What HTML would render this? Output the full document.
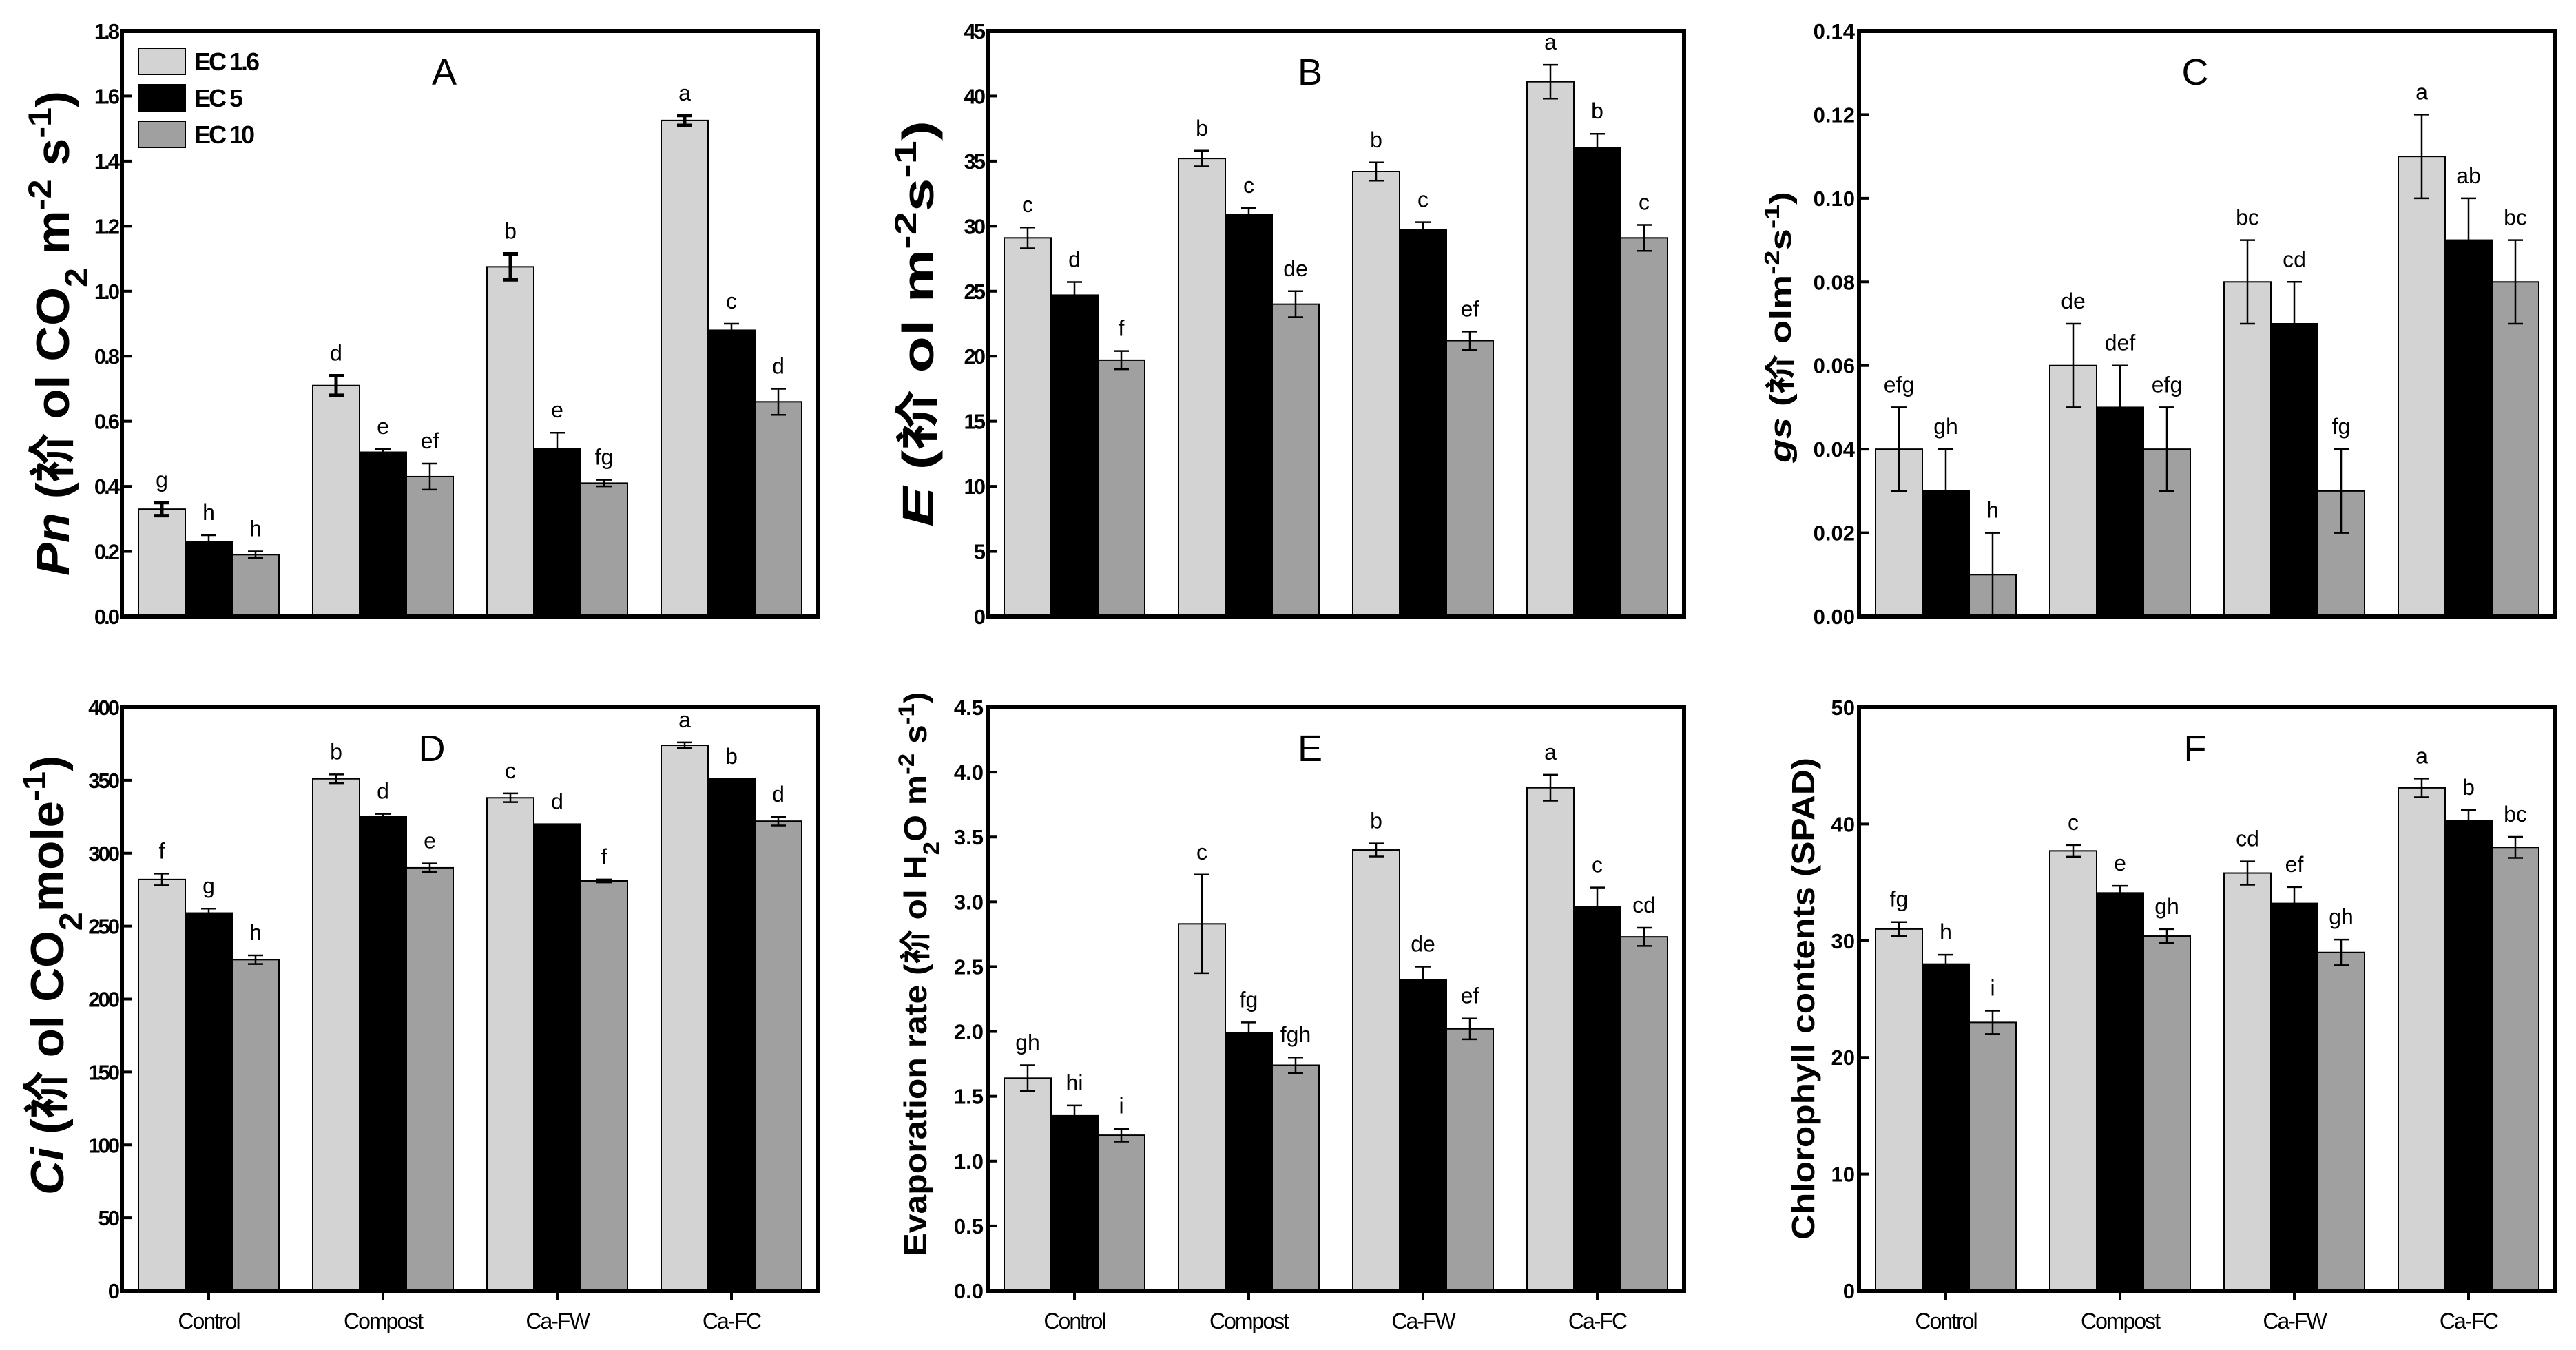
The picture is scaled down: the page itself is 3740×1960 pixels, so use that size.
<!DOCTYPE html>
<html><head><meta charset="utf-8"><style>
html,body{margin:0;padding:0;background:#fff;}
svg{display:block;font-family:"Liberation Sans","Noto Sans CJK SC",sans-serif;}
</style></head><body>
<svg id="fig" width="3740" height="1960" viewBox="0 0 3740 1960" xmlns="http://www.w3.org/2000/svg"></svg>
<script>
const categories = ["Control","Compost","Ca-FW","Ca-FC"];
const seriesNames = ["EC 1.6","EC 5","EC 10"];
const pnValues = [[0.33,0.23,0.19],[0.71,0.505,0.43],[1.075,0.515,0.41],[1.525,0.88,0.66]];
const pnErrors = [[0.02,0.02,0.01],[0.03,0.01,0.04],[0.04,0.05,0.01],[0.015,0.02,0.04]];
const pnLetters = [["g","h","h"],["d","e","ef"],["b","e","fg"],["a","c","d"]];
const pnTicks = ["0.0","0.2","0.4","0.6","0.8","1.0","1.2","1.4","1.6","1.8"];
const eValues = [[29.1,24.7,19.7],[35.2,30.9,24.0],[34.2,29.7,21.2],[41.1,36.0,29.1]];
const eErrors = [[0.8,1.0,0.7],[0.6,0.5,1.0],[0.7,0.6,0.7],[1.3,1.1,1.0]];
const eLetters = [["c","d","f"],["b","c","de"],["b","c","ef"],["a","b","c"]];
const eTicks = ["0","5","10","15","20","25","30","35","40","45"];
const gsValues = [[0.04,0.03,0.01],[0.06,0.05,0.04],[0.08,0.07,0.03],[0.11,0.09,0.08]];
const gsErrors = [[0.01,0.01,0.01],[0.01,0.01,0.01],[0.01,0.01,0.01],[0.01,0.01,0.01]];
const gsLetters = [["efg","gh","h"],["de","def","efg"],["bc","cd","fg"],["a","ab","bc"]];
const gsTicks = ["0.00","0.02","0.04","0.06","0.08","0.10","0.12","0.14"];
const ciValues = [[282,259,227],[351,325,290],[338,320,281],[374,351,322]];
const ciErrors = [[4,3,3],[3,2,3],[3,0,1],[2,0,3]];
const ciLetters = [["f","g","h"],["b","d","e"],["c","d","f"],["a","b","d"]];
const ciTicks = ["0","50","100","150","200","250","300","350","400"];
const evValues = [[1.64,1.35,1.20],[2.83,1.99,1.74],[3.40,2.40,2.02],[3.88,2.96,2.73]];
const evErrors = [[0.10,0.08,0.05],[0.38,0.08,0.06],[0.05,0.10,0.08],[0.10,0.15,0.07]];
const evLetters = [["gh","hi","i"],["c","fg","fgh"],["b","de","ef"],["a","c","cd"]];
const evTicks = ["0.0","0.5","1.0","1.5","2.0","2.5","3.0","3.5","4.0","4.5"];
const chValues = [[31.0,28.0,23.0],[37.7,34.1,30.4],[35.8,33.2,29.0],[43.1,40.3,38.0]];
const chErrors = [[0.6,0.8,1.0],[0.5,0.6,0.6],[1.0,1.4,1.1],[0.8,0.9,0.9]];
const chLetters = [["fg","h","i"],["c","e","gh"],["cd","ef","gh"],["a","b","bc"]];
const chTicks = ["0","10","20","30","40","50"];

const NS="http://www.w3.org/2000/svg";
const svg=document.getElementById('fig');
const colors=["#d3d3d3","#000000","#a0a0a0"];
function mk(tag,attrs,parent){const e=document.createElementNS(NS,tag);for(const k in attrs)e.setAttribute(k,attrs[k]);(parent||svg).appendChild(e);return e;}

function panel(o){
  const g=mk('g',{});
  
  
  const L=o.x, R=o.x+1011, T=o.y0, B=o.y1;
  const ticksN=o.ticks.length-1;
  const yMax=parseFloat(o.ticks[ticksN]);
  const y=v=>B-(v/yMax)*(B-T);
  const groupX=i=>L+24+i*253;
  // bars
  o.values.forEach((grp,i)=>{
    grp.forEach((v,j)=>{
      const bx=groupX(i)+j*68;
      const r=mk('rect',{x:bx,y:y(v),width:68,height:B-y(v),fill:colors[j],stroke:'#000','stroke-width':2},g);
      
      
      const err=o.errors[i][j];
      const cx=bx+34, top=y(v+err), bot=y(v-err);
      if(err>0){
        const eb=mk('path',{d:`M${cx},${top}V${bot}M${cx-11},${top}H${cx+11}M${cx-11},${bot}H${cx+11}`,stroke:'#000','stroke-width':o.thickErr&&j==0?5:2.5,fill:'none'},g);
        
        
      }
      const t=mk('text',{x:cx,y:top-22,'font-size':32,'text-anchor':'middle'},g);
      t.textContent=o.letters[i][j];
      
      
    });
    if(o.xlabels){
      const tx=groupX(i)+102;
      mk('line',{x1:tx,y1:B,x2:tx,y2:B+14,stroke:'#000','stroke-width':4},g);
      const xl=mk('text',{x:tx,y:B+55,'font-size':32,'text-anchor':'middle','letter-spacing':-2},g);
      xl.textContent=categories[i];
      
      
    }
  });
  // y ticks
  o.ticks.forEach((tk,k)=>{
    const ty=y(parseFloat(tk));
    mk('line',{x1:L,y1:ty,x2:L+14,y2:ty,stroke:'#000','stroke-width':4},g);
    const tl=mk('text',{x:L-6,y:ty+11,'font-size':31,'font-weight':'bold','text-anchor':'end','letter-spacing':o.narrow?-3:0},g);
    tl.textContent=tk;
    
    
  });
  const fr=mk('rect',{x:L,y:T,width:1011,height:B-T,fill:'none',stroke:'#000','stroke-width':6},g);
  
  
  const pl=mk('text',{x:L+o.letterDx,y:T+78,'font-size':54,'text-anchor':'middle'},g);
  pl.textContent=o.letter;
  
  
  // y title
  const yt=mk('text',{transform:`translate(${o.yl[0]},${o.yl[1]}) rotate(-90)`,'font-size':o.yl[2],'font-weight':'bold','text-anchor':'middle',textLength:o.yl[3],lengthAdjust:'spacingAndGlyphs'},g);
  yt.innerHTML=o.title;
  
  
  return g;
}
const sup=s=>`<tspan baseline-shift="super" font-size="0.7em">${s}</tspan>`;
const sub=s=>`<tspan baseline-shift="sub" font-size="0.7em">${s}</tspan>`;
panel({name:'panel-a-pn',x:177,y0:45,y1:895,values:pnValues,errors:pnErrors,letters:pnLetters,ticks:pnTicks,letter:'A',letterDx:468,narrow:true,thickErr:true,
  yl:[100,484,68,704],title:`<tspan font-style="italic">Pn</tspan> (祄 ol CO${sub('2')} m${sup('-2')} s${sup('-1')})`});
panel({name:'panel-b-e',x:1434,y0:45,y1:895,values:eValues,errors:eErrors,letters:eLetters,ticks:eTicks,letter:'B',letterDx:468,narrow:true,
  yl:[1355,470,64,590],title:`<tspan font-style="italic">E</tspan> (祄 ol m${sup('-2')}s${sup('-1')})`});
panel({name:'panel-c-gs',x:2699,y0:45,y1:895,values:gsValues,errors:gsErrors,letters:gsLetters,ticks:gsTicks,letter:'C',letterDx:488,
  yl:[2600,475,44,394],title:`<tspan font-style="italic">gs</tspan> (祄 olm${sup('-2')}s${sup('-1')})`});
panel({name:'panel-d-ci',x:177,y0:1027,y1:1874,values:ciValues,errors:ciErrors,letters:ciLetters,ticks:ciTicks,letter:'D',letterDx:450,narrow:true,xlabels:true,
  yl:[92,1416,68,638],title:`<tspan font-style="italic">Ci</tspan> (祄 ol CO${sub('2')}mole${sup('-1')})`});
panel({name:'panel-e-evaporation',x:1434,y0:1027,y1:1874,values:evValues,errors:evErrors,letters:evLetters,ticks:evTicks,letter:'E',letterDx:468,xlabels:true,
  yl:[1345,1414,46,819],title:`Evaporation rate (祄 ol H${sub('2')}O m${sup('-2')} s${sup('-1')})`});
panel({name:'panel-f-chlorophyll',x:2699,y0:1027,y1:1874,values:chValues,errors:chErrors,letters:chLetters,ticks:chTicks,letter:'F',letterDx:488,xlabels:true,
  yl:[2634,1450,46,700],title:`Chlorophyll contents (SPAD)`});
// legend
const lg=mk('g',{});


seriesNames.forEach((n,j)=>{
  const yy=70+j*53;
  const b=mk('rect',{x:201,y:yy,width:68,height:38,fill:colors[j],stroke:'#000','stroke-width':2},lg);
  
  
  const t=mk('text',{x:282,y:yy+32,'font-size':36,'font-weight':'bold','letter-spacing':-3},lg);
  t.textContent=n;
  
  
});
</script>
</body></html>
